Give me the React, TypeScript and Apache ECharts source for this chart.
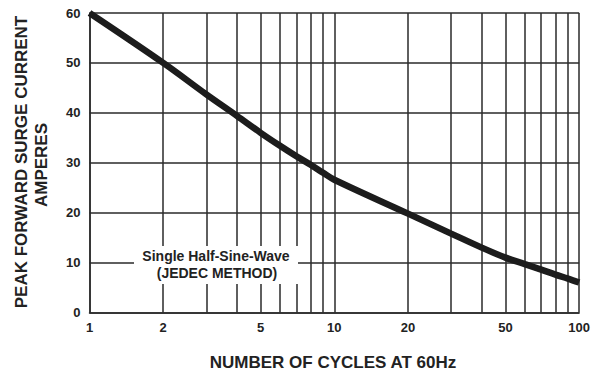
import React, { useEffect, useRef } from "react";
import * as echarts from "echarts";

const cycles = [1, 2, 3, 4, 5, 6, 7, 8, 9, 10, 20, 30, 40, 50, 60, 70, 80, 90, 100];
const amps = [60, 50, 43.7, 39.4, 36, 33.4, 31.3, 29.6, 28.0, 26.6, 19.8, 15.8, 13, 11, 9.7, 8.6, 7.6, 6.8, 6.0];
const gridValues = [1, 2, 3, 4, 5, 6, 7, 8, 9, 10, 20, 30, 40, 50, 60, 70, 80, 90, 100];
const xLabels = [1, 2, 5, 10, 20, 50, 100];
const yTitle = ["PEAK FORWARD SURGE CURRENT", "AMPERES"];
const xTitle = "NUMBER OF CYCLES AT 60Hz";
const note = ["Single Half-Sine-Wave", "(JEDEC METHOD)"];

const FONT = "'Liberation Sans', Arial, sans-serif";

export default function App() {
  const ref = useRef<HTMLDivElement>(null);
  useEffect(() => {
    if (!ref.current) return;
    const chart = echarts.init(ref.current, null, { renderer: "svg" });
    chart.setOption({
      animation: false,
      backgroundColor: "#fff",
      grid: { left: 89.5, right: 10.5, top: 13, bottom: 62.5, containLabel: false },
      xAxis: {
        type: "log",
        logBase: 10,
        min: 1,
        max: 100,
        axisLine: { show: true, lineStyle: { color: "#2a2a2a", width: 1.5 } },
        axisTick: { show: false, customValues: gridValues },
        axisLabel: {
          customValues: xLabels,
          color: "#222",
          fontSize: 13,
          fontWeight: "bold",
          fontFamily: FONT,
          margin: 8,
          formatter: (v: number) => String(Math.round(v)),
        },
        splitLine: { show: true, lineStyle: { color: "#2a2a2a", width: 1.5 } },
        minorTick: { show: false },
        minorSplitLine: { show: false },
      },
      yAxis: {
        type: "value",
        min: 0,
        max: 60,
        interval: 10,
        axisLine: { show: true, lineStyle: { color: "#2a2a2a", width: 1.5 } },
        axisTick: { show: false },
        axisLabel: {
          color: "#222",
          fontSize: 13,
          fontWeight: "bold",
          fontFamily: FONT,
          margin: 9,
        },
        splitLine: { show: true, lineStyle: { color: "#2a2a2a", width: 1.5 } },
      },
      series: [
        {
          type: "line",
          data: cycles.map((c, i) => [c, amps[i]]),
          smooth: 0.35,
          symbol: "none",
          lineStyle: { color: "#1c1c1c", width: 6.5 },
          z: 5,
        },
      ],
      graphic: [
        {
          type: "rect",
          shape: { x: 134, y: 246, width: 164, height: 38 },
          style: { fill: "#fff" },
          z: 100,
        },
        {
          type: "text",
          x: 216,
          y: 256,
          z: 101,
          style: {
            text: note[0],
            font: `bold 14px ${FONT}`,
            fill: "#222",
            textAlign: "center",
            textVerticalAlign: "middle",
          },
        },
        {
          type: "text",
          x: 217,
          y: 273,
          z: 101,
          style: {
            text: note[1],
            font: `bold 14px ${FONT}`,
            fill: "#222",
            textAlign: "center",
            textVerticalAlign: "middle",
          },
        },
        {
          type: "text",
          x: 21,
          y: 162,
          rotation: Math.PI / 2,
          style: {
            text: yTitle[0],
            font: `bold 17px ${FONT}`,
            fill: "#222",
            textAlign: "center",
            textVerticalAlign: "middle",
          },
        },
        {
          type: "text",
          x: 41,
          y: 165,
          rotation: Math.PI / 2,
          style: {
            text: yTitle[1],
            font: `bold 17px ${FONT}`,
            fill: "#222",
            textAlign: "center",
            textVerticalAlign: "middle",
          },
        },
        {
          type: "text",
          x: 333,
          y: 362,
          style: {
            text: xTitle,
            font: `bold 17px ${FONT}`,
            fill: "#222",
            textAlign: "center",
            textVerticalAlign: "middle",
          },
        },
      ],
    });
    return () => chart.dispose();
  }, []);
  return <div ref={ref} style={{ width: 593, height: 375, position: "fixed", left: 0, top: 0 }} />;
}
